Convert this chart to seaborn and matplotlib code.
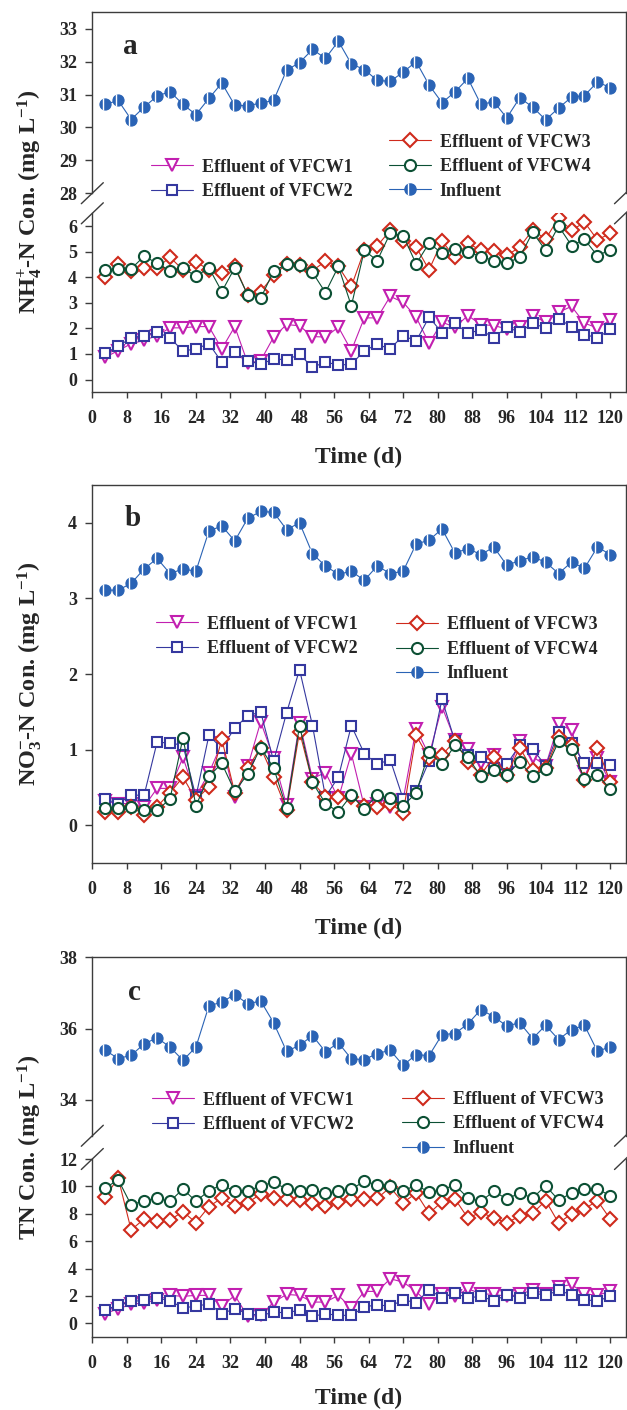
import matplotlib
matplotlib.use("Agg")
import matplotlib.pyplot as plt
from matplotlib.lines import Line2D
from matplotlib.path import Path
import seaborn as sns

# sampling days (every 3 d)
days = list(range(3, 121, 3))
xticks = list(range(0, 121, 8))

# (a) NH4+-N, mg/L
nh4_inf = [30.70, 30.82, 30.24, 30.62, 30.95, 31.09, 30.70, 30.39, 30.88, 31.35,
           30.67, 30.66, 30.74, 30.82, 31.74, 31.97, 32.37, 32.10, 32.62, 31.93,
           31.76, 31.43, 31.40, 31.68, 32.00, 31.29, 30.75, 31.08, 31.49, 30.70,
           30.78, 30.29, 30.90, 30.62, 30.23, 30.59, 30.92, 30.97, 31.38, 31.21]
nh4_w1 = [0.87, 1.13, 1.40, 1.53, 1.72, 2.02, 2.02, 2.07, 2.07, 1.20,
          2.07, 0.64, 0.74, 1.66, 2.15, 2.10, 1.68, 1.66, 2.05, 1.13,
          2.41, 2.41, 3.25, 3.02, 2.44, 1.42, 2.24, 2.05, 2.50, 2.15,
          2.11, 1.98, 2.07, 2.50, 2.24, 2.63, 2.86, 2.20, 2.02, 2.33]
nh4_w2 = [1.03, 1.30, 1.63, 1.72, 1.85, 1.63, 1.11, 1.20, 1.40, 0.68,
          1.08, 0.74, 0.59, 0.81, 0.77, 0.98, 0.48, 0.68, 0.57, 0.59,
          1.13, 1.37, 1.20, 1.72, 1.50, 2.44, 1.83, 2.20, 1.81, 1.94,
          1.63, 2.05, 1.85, 2.20, 2.01, 2.37, 2.07, 1.76, 1.63, 1.96]
nh4_w3 = [4.00, 4.52, 4.24, 4.37, 4.37, 4.78, 4.29, 4.60, 4.29, 4.16,
          4.45, 3.29, 3.44, 4.07, 4.52, 4.46, 4.26, 4.62, 4.42, 3.64,
          5.05, 5.23, 5.83, 5.41, 5.18, 4.29, 5.41, 4.78, 5.33, 5.05,
          5.02, 4.85, 5.18, 5.85, 5.49, 6.32, 5.83, 6.15, 5.46, 5.72]
nh4_w4 = [4.29, 4.33, 4.33, 4.82, 4.55, 4.24, 4.37, 4.03, 4.37, 3.44,
          4.37, 3.31, 3.18, 4.24, 4.50, 4.46, 4.19, 3.40, 4.42, 2.88,
          5.05, 4.65, 5.72, 5.63, 4.52, 5.33, 4.94, 5.12, 4.99, 4.81,
          4.65, 4.55, 4.78, 5.76, 5.05, 6.00, 5.24, 5.48, 4.84, 5.08]

# (b) NO3--N, mg/L
no3_inf = [3.11, 3.11, 3.20, 3.39, 3.53, 3.33, 3.39, 3.36, 3.89, 3.96,
           3.76, 4.06, 4.15, 4.14, 3.91, 4.00, 3.59, 3.43, 3.32, 3.36,
           3.24, 3.43, 3.33, 3.36, 3.72, 3.77, 3.92, 3.60, 3.66, 3.58,
           3.68, 3.44, 3.50, 3.55, 3.48, 3.33, 3.48, 3.40, 3.68, 3.58]
no3_w1 = [0.32, 0.29, 0.29, 0.25, 0.49, 0.49, 0.90, 0.39, 0.69, 1.09,
          0.37, 0.78, 1.37, 0.89, 0.27, 1.36, 0.62, 0.70, 0.36, 0.95,
          0.25, 0.29, 0.25, 0.34, 1.28, 0.93, 1.57, 1.13, 1.01, 0.82,
          0.93, 0.69, 1.11, 0.91, 0.79, 1.34, 1.26, 0.71, 0.89, 0.57]
no3_w2 = [0.35, 0.29, 0.40, 0.40, 1.10, 1.09, 1.06, 0.38, 1.19, 1.02,
          1.29, 1.45, 1.50, 0.85, 1.49, 2.06, 1.32, 0.38, 0.64, 1.32,
          0.95, 0.81, 0.87, 0.35, 0.45, 0.85, 1.67, 1.11, 0.93, 0.90,
          0.76, 0.81, 1.06, 1.01, 0.79, 1.23, 1.09, 0.82, 0.83, 0.80]
no3_w3 = [0.18, 0.18, 0.25, 0.14, 0.25, 0.43, 0.64, 0.34, 0.51, 1.14,
          0.43, 0.76, 1.03, 0.64, 0.21, 1.24, 0.57, 0.38, 0.37, 0.37,
          0.26, 0.25, 0.29, 0.17, 1.19, 0.89, 0.93, 1.12, 0.84, 0.67,
          0.91, 0.67, 1.03, 0.73, 0.76, 1.17, 1.06, 0.60, 1.03, 0.57]
no3_w4 = [0.23, 0.23, 0.25, 0.20, 0.20, 0.35, 1.16, 0.26, 0.65, 0.82,
          0.45, 0.68, 1.03, 0.76, 0.23, 1.32, 0.57, 0.29, 0.18, 0.40,
          0.22, 0.40, 0.36, 0.26, 0.43, 0.97, 0.81, 1.06, 0.90, 0.65,
          0.73, 0.67, 0.84, 0.65, 0.74, 1.11, 1.01, 0.62, 0.67, 0.48]

# (c) TN, mg/L
tn_inf = [35.39, 35.16, 35.25, 35.57, 35.74, 35.48, 35.11, 35.48, 36.63, 36.74,
          36.95, 36.69, 36.77, 36.16, 35.36, 35.53, 35.80, 35.35, 35.60, 35.15,
          35.13, 35.30, 35.39, 34.97, 35.27, 35.24, 35.83, 35.86, 36.13, 36.53,
          36.33, 36.07, 36.16, 35.72, 36.09, 35.69, 35.97, 36.09, 35.36, 35.49]
tn_w1 = [0.70, 1.07, 1.38, 1.50, 1.72, 2.04, 1.97, 2.04, 2.04, 1.24,
         2.04, 0.51, 0.58, 1.55, 2.11, 2.04, 1.55, 1.55, 2.04, 1.12,
         2.33, 2.33, 3.25, 3.01, 2.33, 1.38, 2.16, 1.97, 2.52, 2.16,
         2.11, 1.97, 2.11, 2.45, 2.16, 2.65, 2.84, 2.16, 2.04, 2.35]
tn_w2 = [1.00, 1.31, 1.60, 1.67, 1.87, 1.63, 1.14, 1.24, 1.43, 0.70,
         1.07, 0.70, 0.58, 0.80, 0.78, 0.95, 0.51, 0.70, 0.58, 0.58,
         1.19, 1.36, 1.24, 1.72, 1.50, 2.45, 1.87, 2.21, 1.84, 1.99,
         1.63, 2.09, 1.87, 2.23, 2.04, 2.40, 2.09, 1.72, 1.63, 1.97]
tn_w3 = [9.25, 10.61, 6.82, 7.62, 7.45, 7.55, 8.16, 7.35, 8.52, 9.15,
         8.57, 8.81, 9.44, 9.15, 9.05, 9.00, 8.76, 8.57, 8.88, 9.05,
         9.08, 9.13, 9.93, 8.81, 9.51, 8.03, 8.88, 9.08, 7.69, 8.11,
         7.69, 7.33, 7.84, 8.03, 8.96, 7.33, 7.99, 8.35, 8.96, 7.60]
tn_w4 = [9.88, 10.49, 8.64, 8.96, 9.13, 8.91, 9.81, 8.91, 9.68, 10.12,
         9.64, 9.64, 10.05, 10.29, 9.81, 9.68, 9.73, 9.51, 9.64, 9.81,
         10.36, 10.12, 10.05, 9.64, 10.12, 9.56, 9.76, 10.10, 9.15, 8.91,
         9.64, 9.08, 9.51, 9.15, 10.05, 9.00, 9.51, 9.78, 9.81, 9.32]

labels = ["Effluent of VFCW1", "Effluent of VFCW2", "Effluent of VFCW3",
          "Effluent of VFCW4", "Influent"]

C1, C2, C3, C4, CI = "#c21fb0", "#35389f", "#cf2a1c", "#0c5034", "#2a63b5"
SPINE = "#3c3c3c"

sns.set_theme(style="ticks")
plt.rcParams["font.family"] = ["Liberation Serif", "DejaVu Serif"]
plt.rcParams["font.weight"] = "bold"
plt.rcParams["mathtext.fontset"] = "custom"
plt.rcParams["mathtext.rm"] = "Liberation Serif:bold"
plt.rcParams["mathtext.it"] = "Liberation Serif:bold"
plt.rcParams["mathtext.bf"] = "Liberation Serif:bold"
plt.rcParams["mathtext.default"] = "rm"

W, H = 627, 1410
fig = plt.figure(figsize=(W / 100, H / 100), dpi=100)

# white stripe drawn over the influent dots (half-filled look)
stripe = Path([(-0.3, -0.95), (-0.3, 0.95)], [Path.MOVETO, Path.LINETO])

STYLES = {
    "w1": dict(color=C1, marker="v", markersize=9),
    "w2": dict(color=C2, marker="s", markersize=7.5),
    "w3": dict(color=C3, marker="D", markersize=7),
    "w4": dict(color=C4, marker="o", markersize=8),
}


def add_ax(top, bottom, left=92.3, right=625.5):
    return fig.add_axes([left / W, 1 - bottom / H, (right - left) / W, (bottom - top) / H])


def effluent(ax, y, key):
    st = STYLES[key]
    sns.lineplot(x=days, y=y, ax=ax, color=st["color"], linewidth=0.8,
                 marker=st["marker"], markersize=st["markersize"],
                 markerfacecolor="white", markeredgecolor=st["color"],
                 markeredgewidth=1.5, zorder=3)


def influent(ax, y):
    sns.lineplot(x=days, y=y, ax=ax, color=CI, linewidth=0.8, marker="o",
                 markersize=8, markerfacecolor=CI, markeredgecolor=CI,
                 markeredgewidth=0.8, zorder=4)
    ax.plot(days, y, linestyle="none", marker=stripe, markersize=8,
            markeredgecolor="white", markeredgewidth=1.0, zorder=5)


def style(ax, ylim, yticks, top=True, bottom=True):
    ax.set_xlim(0, 123.5)
    ax.set_ylim(*ylim)
    ax.set_yticks(yticks)
    ax.set_xticks(xticks)
    for side in ["left", "right", "top", "bottom"]:
        ax.spines[side].set_color(SPINE)
        ax.spines[side].set_linewidth(1.0)
    ax.spines["top"].set_visible(top)
    ax.spines["bottom"].set_visible(bottom)
    ax.tick_params(axis="y", direction="out", length=5, width=1.0, color=SPINE,
                   pad=6, labelsize=13)
    ax.tick_params(axis="x", direction="out", length=4, width=1.0, color=SPINE,
                   pad=9, labelsize=13, bottom=bottom, labelbottom=bottom)
    for t in ax.get_xticklabels() + ax.get_yticklabels():
        t.set_fontweight("bold")
    ax.set_xlabel("")
    ax.set_ylabel("")


def break_marks(ax_up, ax_low):
    pu, pl = ax_up.get_position(), ax_low.get_position()
    dx, dy = 11 / W, 10.5 / H
    for x in (pu.x0, pu.x1):
        for y in (pu.y0, pl.y1):
            fig.add_artist(Line2D([x - dx, x + dx], [y - dy, y + dy],
                                  transform=fig.transFigure, color=SPINE, lw=1.0))


def legends(left_x, right_x, left_rows, right_rows):
    h = {
        "w1": Line2D([], [], color=C1, lw=0.8, marker="v", markersize=9,
                     markerfacecolor="white", markeredgecolor=C1, markeredgewidth=1.5),
        "w2": Line2D([], [], color=C2, lw=0.8, marker="s", markersize=7.5,
                     markerfacecolor="white", markeredgecolor=C2, markeredgewidth=1.5),
        "w3": Line2D([], [], color=C3, lw=0.8, marker="D", markersize=7,
                     markerfacecolor="white", markeredgecolor=C3, markeredgewidth=1.5),
        "w4": Line2D([], [], color=C4, lw=0.8, marker="o", markersize=8,
                     markerfacecolor="white", markeredgecolor=C4, markeredgewidth=1.5),
        "inf": (Line2D([], [], color=CI, lw=0.8, marker="o", markersize=8,
                       markerfacecolor=CI, markeredgecolor=CI),
                Line2D([], [], linestyle="none", marker=stripe, markersize=8,
                       markeredgecolor="white", markeredgewidth=1.0)),
    }
    keys = ["w1", "w2", "w3", "w4", "inf"]
    kw = dict(frameon=False, borderpad=0, handlelength=2.3, handletextpad=0.5,
              labelspacing=0.42, prop={"size": 13, "weight": "bold"})
    lk = keys[:2]
    rk = keys[2:]
    lcy = sum(left_rows) / len(left_rows)
    rcy = sum(right_rows) / len(right_rows)
    fig.legend([h[k] for k in lk], [labels[keys.index(k)] for k in lk],
               loc="center left", bbox_to_anchor=(left_x / W, 1 - lcy / H), **kw)
    fig.legend([h[k] for k in rk], [labels[keys.index(k)] for k in rk],
               loc="center left", bbox_to_anchor=(right_x / W, 1 - rcy / H), **kw)


def ylabel(text, cy):
    fig.text(30 / W, 1 - cy / H, text, rotation=90, ha="center", va="center",
             fontsize=17.5, fontweight="bold")


def xlabel(cy):
    fig.text((92.3 + 625.5) / 2 / W, 1 - cy / H, "Time (d)", ha="center",
             va="center", fontsize=17, fontweight="bold")


def panel_letter(ax, letter, px, py):
    fig.text(px / W, 1 - py / H, letter, ha="center", va="center",
             fontsize=21, fontweight="bold")


# ---- panel a ----
a_up = add_ax(12.3, 193.2)
a_low = add_ax(213.3, 392.3)
influent(a_up, nh4_inf)
for key, y in zip(["w1", "w2", "w3", "w4"], [nh4_w1, nh4_w2, nh4_w3, nh4_w4]):
    effluent(a_low, y, key)
style(a_up, (28, 33.5), list(range(28, 34)), top=True, bottom=False)
style(a_low, (-0.5, 6.5), list(range(0, 7)), top=False, bottom=True)
break_marks(a_up, a_low)
panel_letter(a_up, "a", 130, 47)
legends(142, 380, [166, 193], [141, 166, 193])
ylabel(r"NH$_{4}^{+}$-N Con. (mg L$^{-1}$)", 202)
xlabel(457)

# ---- panel b ----
b_ax = add_ax(485, 863.3)
for key, y in zip(["w1", "w2", "w3", "w4"], [no3_w1, no3_w2, no3_w3, no3_w4]):
    effluent(b_ax, y, key)
influent(b_ax, no3_inf)
style(b_ax, (-0.5, 4.5), list(range(0, 5)))
panel_letter(b_ax, "b", 133, 519)
legends(147, 387, [623, 650], [623, 650, 675])
ylabel(r"NO$_{3}^{-}$-N Con. (mg L$^{-1}$)", 674)
xlabel(928)

# ---- panel c ----
c_up = add_ax(957, 1135.75)
c_low = add_ax(1159, 1337)
influent(c_up, tn_inf)
for key, y in zip(["w1", "w2", "w3", "w4"], [tn_w1, tn_w2, tn_w3, tn_w4]):
    effluent(c_low, y, key)
style(c_up, (33, 38), [34, 36, 38], top=True, bottom=False)
style(c_low, (-1, 12), list(range(0, 13, 2)), top=False, bottom=True)
break_marks(c_up, c_low)
panel_letter(c_up, "c", 134, 993)
legends(143, 393, [1100, 1125], [1100, 1125, 1147])
ylabel(r"TN Con. (mg L$^{-1}$)", 1147)
xlabel(1398)

fig.savefig("out.png", dpi=100)
